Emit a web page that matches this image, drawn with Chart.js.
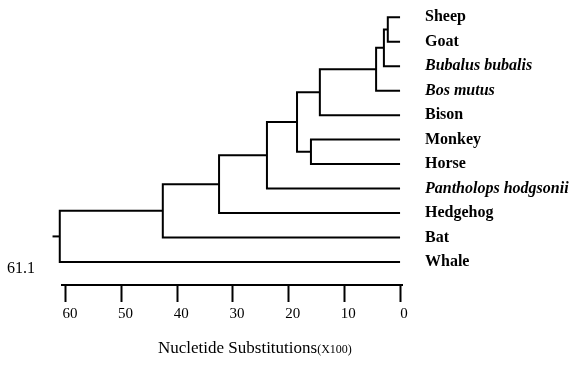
<!DOCTYPE html>
<html>
<head>
<meta charset="utf-8">
<script src="https://cdn.jsdelivr.net/npm/chart.js@4/dist/chart.umd.min.js"></script>
<style>
  html, body { margin: 0; padding: 0; background: #fff; }
  #wrap { width: 581px; height: 371px; }
</style>
</head>
<body>
<div id="wrap"><canvas id="tree"></canvas></div>
<script>
// leaves, top to bottom
const leaves = ["Sheep", "Goat", "Bubalus bubalis", "Bos mutus", "Bison", "Monkey", "Horse",
                "Pantholops hodgsonii", "Hedgehog", "Bat", "Whale"];
const italicLeaves = ["Bubalus bubalis", "Bos mutus", "Pantholops hodgsonii"];

// merges: node ids 0..10 are the leaves, merge i makes node 11+i
const mergeLeft   = [0, 11, 12, 13, 5, 14, 16, 17, 18, 19];
const mergeRight  = [1, 2, 3, 4, 6, 15, 7, 8, 9, 10];
const mergeHeight = [2.2, 2.9, 4.3, 14.4, 16.0, 18.5, 23.9, 32.5, 42.6, 61.1];

const tickValues = [0, 10, 20, 30, 40, 50, 60];
const rootStub = 62.4;   // little tick left of the root

// node positions (height, row)
const nodeX = leaves.map(() => 0);
const nodeY = leaves.map((_, i) => i);
mergeHeight.forEach((h, i) => {
  nodeX.push(h);
  nodeY.push((nodeY[mergeLeft[i]] + nodeY[mergeRight[i]]) / 2);
});
const root = nodeX.length - 1;

const lineStyle = {
  showLine: true, pointRadius: 0, borderColor: "#000", borderWidth: 2,
  borderJoinStyle: "miter", borderCapStyle: "butt", clip: false, tension: 0
};

const datasets = mergeHeight.map((h, i) => {
  const l = mergeLeft[i], r = mergeRight[i];
  return Object.assign({
    data: [
      {x: nodeX[l], y: nodeY[l]},
      {x: h, y: nodeY[l]},
      {x: h, y: nodeY[r]},
      {x: nodeX[r], y: nodeY[r]}
    ]
  }, lineStyle);
});
datasets.push(Object.assign({
  data: [{x: nodeX[root], y: nodeY[root]}, {x: rootStub, y: nodeY[root]}]
}, lineStyle));

// root height + axis title (with the smaller "(X100)")
const extraText = {
  id: "extraText",
  afterDraw(chart) {
    const ctx = chart.ctx;
    ctx.save();
    ctx.fillStyle = "#000";
    ctx.textAlign = "left";
    ctx.textBaseline = "alphabetic";
    ctx.font = '16px "Liberation Serif"';
    ctx.fillText(nodeX[root].toFixed(1), 7, 273);

    const part1 = "Nucletide Substitutions", part2 = "(X100)";
    ctx.font = '17px "Liberation Serif"';
    const w1 = ctx.measureText(part1).width;
    ctx.fillText(part1, 158, 353);
    ctx.font = '12px "Liberation Serif"';
    ctx.fillText(part2, 158 + w1, 353);
    ctx.restore();
  }
};

new Chart("tree", {
  type: "scatter",
  data: { datasets: datasets },
  plugins: [extraText],
  options: {
    responsive: true,
    maintainAspectRatio: false,
    animation: false,
    layout: { padding: { left: 62, top: 5, right: 0, bottom: 0 } },
    plugins: { legend: { display: false }, tooltip: { enabled: false } },
    scales: {
      x: {
        type: "linear",
        reverse: true,
        min: -0.35,
        max: 60.7,
        afterBuildTicks: s => { s.ticks = tickValues.map(v => ({value: v})); },
        afterFit: s => { s.height = 86; s.paddingLeft = 0; s.paddingRight = 0; },
        grid: { display: true, drawOnChartArea: false, drawTicks: true, tickLength: 17,
                tickWidth: 2, tickColor: "#000", color: "#000" },
        border: { display: true, color: "#000", width: 2 },
        ticks: { color: "#000", padding: 3, labelOffset: 4, maxRotation: 0,
                 font: { family: "Liberation Serif", size: 15 } }
      },
      y: {
        type: "linear",
        position: "right",
        reverse: true,
        min: -0.5,
        max: 10.94,
        afterBuildTicks: s => { s.ticks = leaves.map((_, i) => ({value: i})); },
        afterFit: s => { s.width = 179; s.paddingTop = 0; s.paddingBottom = 0; },
        grid: { display: false, drawTicks: false },
        border: { display: false },
        ticks: {
          color: "#000",
          padding: 23,
          callback: (v, i) => leaves[i],
          font: ctx => ({
            family: "Liberation Serif", size: 16, weight: "bold",
            style: italicLeaves.includes(leaves[ctx.index]) ? "italic" : "normal"
          })
        }
      }
    }
  }
});
</script>
</body>
</html>
